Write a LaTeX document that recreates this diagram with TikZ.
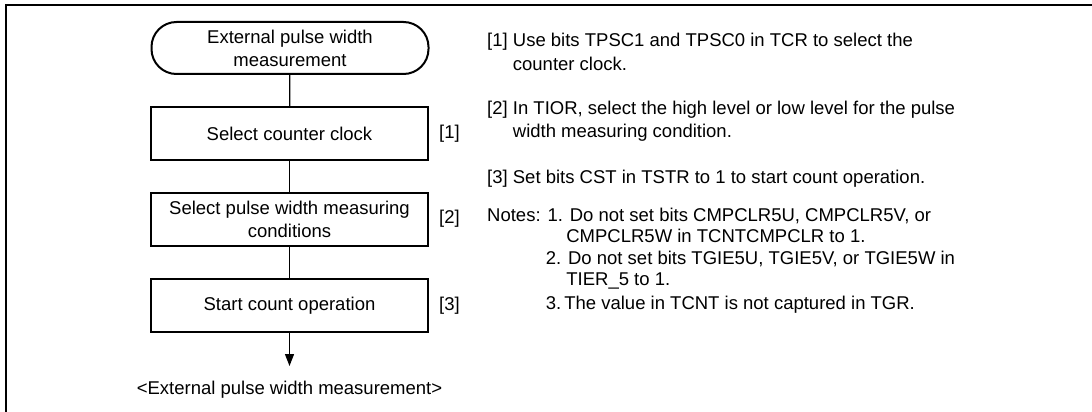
\documentclass[tikz,border=0pt]{standalone}
\usepackage{fontspec}
\setmainfont{Liberation Sans}
\usetikzlibrary{positioning, arrows.meta}

\begin{document}
\begin{tikzpicture}[x=1pt, y=-1pt,
    font=\fontsize{18.5}{23}\selectfont,
    stepbox/.style={draw, line width=2pt, minimum width=277pt, minimum height=53pt, align=center, inner sep=0pt},
    terminal/.style={stepbox, rounded corners=25pt, minimum height=52pt},
    flow/.style={line width=1.3pt},
    tag/.style={inner sep=0pt},
    line/.style={inner sep=0pt, anchor=base west}
]
\useasboundingbox (0,0) rectangle (1092,412);
\draw[line width=2.5pt] (6,412) -- (6,5) -- (1092,5);

% flow chart
\node[terminal] (start) at (290,48) {External pulse width\\measurement};
\node[stepbox] (clock) at (289.5,133.5) {Select counter clock};
\node[stepbox] (cond) at (289.5,219) {Select pulse width measuring\\conditions};
\node[stepbox] (count) at (289.5,305.5) {Start count operation};
\coordinate (exit) at (289.5,366);
\node (endtxt) at (289.5,390) {<External pulse width measurement>};

\draw[flow] (start) -- (clock);
\draw[flow] (clock) -- (cond);
\draw[flow] (cond) -- (count);
\draw[flow, -{Triangle[length=12pt, width=9pt]}] (count) -- (exit);

\node[tag, right=10pt of clock] (tag1) {[1]};
\node[tag, right=10pt of cond] (tag2) {[2]};
\node[tag, right=10pt of count] (tag3) {[3]};

% explanations
\node[line] (p1a) at (487,46.5) {[1] Use bits TPSC1 and TPSC0 in TCR to select the};
\node[line] (p1b) at (487,70.5) {\hphantom{[1]\ }counter clock.};
\node[line] (p2a) at (487,114.5) {[2] In TIOR, select the high level or low level for the pulse};
\node[line] (p2b) at (487,137.5) {\hphantom{[2]\ }width measuring condition.};
\node[line] (p3a) at (487,183.5) {[3] Set bits CST in TSTR to 1 to start count operation.};

% notes
\node[line] (n1a) at (487,221.5) {Notes: 1. Do not set bits CMPCLR5U, CMPCLR5V, or};
\node[line] (n1b) at (487,242.5) {\hphantom{Notes:\ 1.\ }CMPCLR5W in TCNTCMPCLR to 1.};
\node[line] (n2a) at (487,264.5) {\hphantom{Notes:\ }2. Do not set bits TGIE5U, TGIE5V, or TGIE5W in};
\node[line] (n2b) at (487,285.5) {\hphantom{Notes:\ 2.\ }TIER\_5 to 1.};
\node[line] (n3a) at (487,309.5) {\hphantom{Notes:\ }3.\,The value in TCNT is not captured in TGR.};
\end{tikzpicture}
\end{document}
